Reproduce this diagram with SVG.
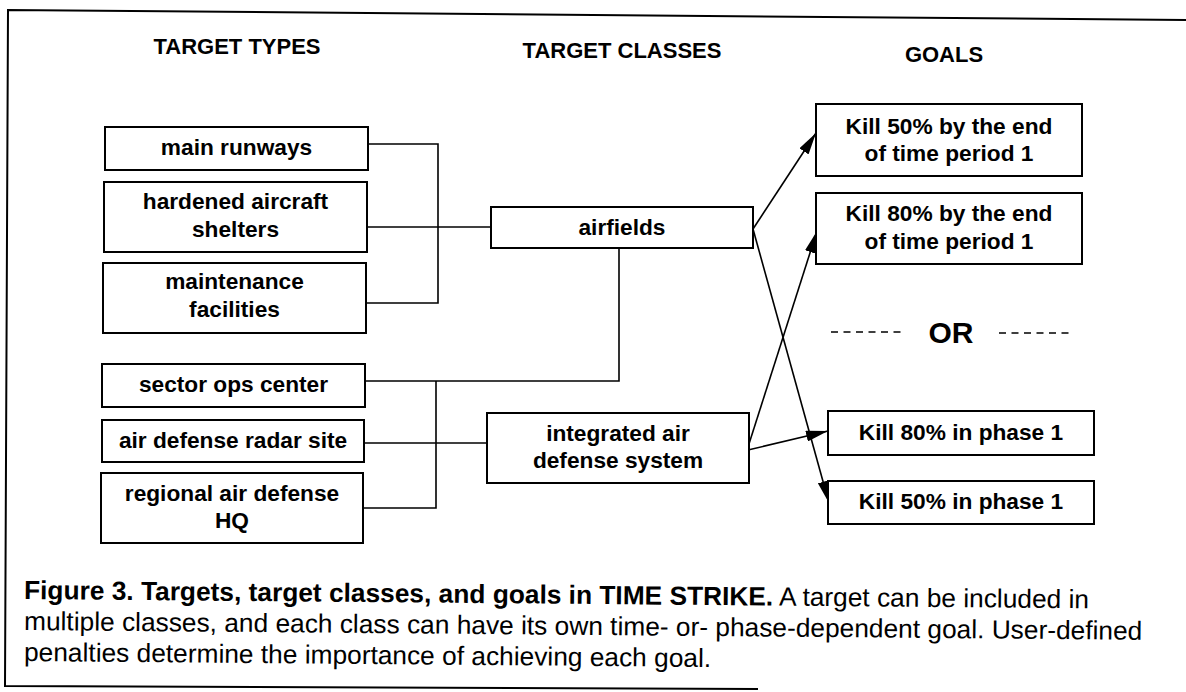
<svg xmlns="http://www.w3.org/2000/svg" width="1186" height="692" viewBox="0 0 1186 692">
<style>
.box{fill:#fff;stroke:#000;stroke-width:2}
.lbl{font-family:"Liberation Sans",Arial,sans-serif;font-weight:bold;font-size:22.7px;text-anchor:middle;fill:#000}
.hdr{font-family:"Liberation Sans",Arial,sans-serif;font-weight:bold;font-size:22px;text-anchor:middle;fill:#000}
.cap{font-family:"Liberation Sans",Arial,sans-serif;font-size:26.3px;fill:#000}
.conn{stroke:#000;stroke-width:1.6;fill:none}
.frame{stroke:#000;stroke-width:2;fill:none}
</style>
<defs>
<marker id="ah" viewBox="0 0 22 11" refX="22" refY="5.5" markerWidth="22" markerHeight="11" markerUnits="userSpaceOnUse" orient="auto">
<path d="M0,0 L22,5.5 L0,11 z" fill="#000"/>
</marker>
</defs>
<rect width="1186" height="692" fill="#fff"/>
<polyline class="frame" points="1186,20 8,10 5,686 758,689"/>

<g id="headers">
<text class="hdr" x="237" y="54">TARGET TYPES</text>
<text class="hdr" x="622" y="58">TARGET CLASSES</text>
<text class="hdr" x="944" y="61.5">GOALS</text>
</g>

<g id="connectors">
<polyline class="conn" points="368,144 438,144 438,303 366,303"/>
<line class="conn" x1="367" y1="227" x2="491" y2="227"/>
<polyline class="conn" points="619,248 619,381 365,381"/>
<polyline class="conn" points="436,381 436,508 363,508"/>
<line class="conn" x1="364" y1="443" x2="487" y2="443"/>
<line class="conn" x1="753" y1="229" x2="816" y2="133" marker-end="url(#ah)"/>
<line class="conn" x1="753" y1="229" x2="829" y2="503" marker-end="url(#ah)"/>
<line class="conn" x1="748" y1="447" x2="817" y2="231" marker-end="url(#ah)"/>
<line class="conn" x1="748" y1="450" x2="828" y2="431" marker-end="url(#ah)"/>
</g>

<g id="n-main-runways"><rect class="box" x="105" y="127" width="263" height="43"/><text class="lbl" x="236.5" y="155">main runways</text></g>
<g id="n-hardened"><rect class="box" x="104" y="182" width="263" height="70"/><text class="lbl" x="235.5" y="209">hardened aircraft</text><text class="lbl" x="235.5" y="237">shelters</text></g>
<g id="n-maintenance"><rect class="box" x="103" y="263" width="263" height="70"/><text class="lbl" x="234.5" y="289">maintenance</text><text class="lbl" x="234.5" y="317">facilities</text></g>
<g id="n-sector-ops"><rect class="box" x="102" y="364" width="263" height="43"/><text class="lbl" x="233.5" y="392">sector ops center</text></g>
<g id="n-radar"><rect class="box" x="102" y="420" width="262" height="42"/><text class="lbl" x="233" y="448">air defense radar site</text></g>
<g id="n-regional"><rect class="box" x="101" y="473" width="262" height="70"/><text class="lbl" x="232" y="501">regional air defense</text><text class="lbl" x="232" y="528">HQ</text></g>

<g id="n-airfields"><rect class="box" x="491" y="207" width="262" height="41"/><text class="lbl" x="622" y="235">airfields</text></g>
<g id="n-iads"><rect class="box" x="487" y="413" width="262" height="70"/><text class="lbl" x="618" y="441">integrated air</text><text class="lbl" x="618" y="468">defense system</text></g>

<g id="n-goal1"><rect class="box" x="816" y="104" width="266" height="72"/><text class="lbl" x="949" y="134">Kill 50% by the end</text><text class="lbl" x="949" y="161">of time period 1</text></g>
<g id="n-goal2"><rect class="box" x="816" y="193" width="266" height="71"/><text class="lbl" x="949" y="221">Kill 80% by the end</text><text class="lbl" x="949" y="249">of time period 1</text></g>
<g id="n-or">
<line class="conn" x1="831" y1="332" x2="905" y2="332" stroke-dasharray="7,5.5" stroke-width="1.2"/>
<text x="951" y="343" font-family="Liberation Sans, Arial, sans-serif" font-weight="bold" font-size="30" text-anchor="middle">OR</text>
<line class="conn" x1="999" y1="333" x2="1073" y2="333" stroke-dasharray="7,5.5" stroke-width="1.2"/>
</g>
<g id="n-goal3"><rect class="box" x="828" y="411" width="266" height="44"/><text class="lbl" x="961" y="440">Kill 80% in phase 1</text></g>
<g id="n-goal4"><rect class="box" x="828" y="481" width="266" height="43"/><text class="lbl" x="961" y="509">Kill 50% in phase 1</text></g>

<g id="caption">
<text class="cap" x="24" y="599" transform="rotate(0.5 24 599)"><tspan font-weight="bold">Figure 3. Targets, target classes, and goals in TIME STRIKE.</tspan> A target can be included in</text>
<text class="cap" x="24" y="630" transform="rotate(0.5 24 630)">multiple classes, and each class can have its own time- or- phase-dependent goal. User-defined</text>
<text class="cap" x="24" y="661" transform="rotate(0.5 24 661)">penalties determine the importance of achieving each goal.</text>
</g>
</svg>
